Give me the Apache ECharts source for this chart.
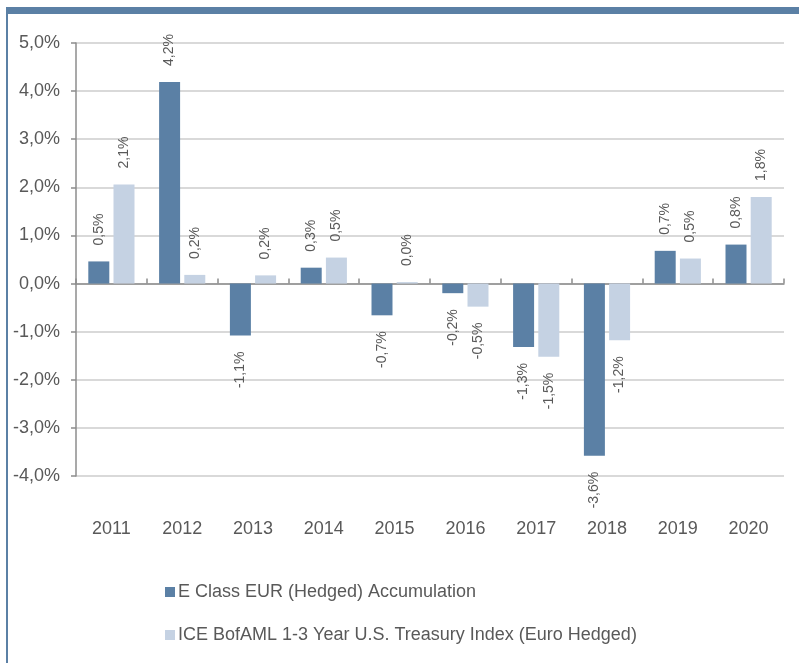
<!DOCTYPE html>
<html>
<head>
<meta charset="utf-8">
<script src="https://cdn.jsdelivr.net/npm/echarts@6/dist/echarts.min.js"></script>
<style>
    html, body { margin: 0; padding: 0; background: #fff; }
    #chart { width: 799px; height: 663px; }
</style>
</head>
<body>
<div id="chart"></div>
<script>
var years = ["2011", "2012", "2013", "2014", "2015", "2016", "2017", "2018", "2019", "2020"];
var fundValues = [0.46, 4.19, -1.08, 0.33, -0.66, -0.2, -1.32, -3.58, 0.68, 0.81];
var indexValues = [2.06, 0.18, 0.17, 0.54, 0.03, -0.48, -1.52, -1.18, 0.52, 1.8];
var seriesNames = ["E Class EUR (Hedged) Accumulation", "ICE BofAML 1-3 Year U.S. Treasury Index (Euro Hedged)"];

(function() {
    let myChart = echarts.init(document.getElementById("chart"));

    function fmt(v) {
        return v.toFixed(1).replace(".", ",") + "%";
    }

    // label above positive bars, below negative ones
    function withLabels(values) {
        return values.map(function(v) {
            return {
                value: v,
                label: v < 0 ? { position: "bottom", align: "right" } : { position: "top", align: "left" }
            };
        });
    }

    let barLabel = {
        show: true,
        rotate: 90,
        distance: 16,
        verticalAlign: "middle",
        color: "#595959",
        fontSize: 14,
        formatter: function(p) { return fmt(p.value); }
    };

    let option = {
        animation: false,
        textStyle: { fontFamily: "Liberation Sans, Arial, sans-serif" },
        grid: {
            left: 76,
            right: 15,
            top: 43,
            bottom: 187
        },
        legend: {
            orient: "vertical",
            left: 160,
            top: 578,
            itemWidth: 10,
            itemHeight: 10,
            itemGap: 25,
            icon: "rect",
            textStyle: {
                color: "#595959",
                fontSize: 18,
                padding: [0, 0, 0, -2]
            },
            data: seriesNames
        },
        graphic: [
            { type: "rect", shape: { x: 6, y: 7, width: 793, height: 7 }, style: { fill: "#5b80a5" } },
            { type: "rect", shape: { x: 6, y: 7, width: 2, height: 656 }, style: { fill: "#5b80a5" } }
        ],
        xAxis: [{
            type: "category",
            data: years,
            position: "bottom",
            axisLine: { show: false, onZero: false },
            axisTick: { show: false },
            axisLabel: {
                color: "#595959",
                fontSize: 18,
                margin: 44
            }
        }, {
            type: "category",
            data: years,
            axisLine: {
                onZero: true,
                lineStyle: { color: "#8c8c8c", width: 1.5 }
            },
            axisTick: {
                show: true,
                length: 5,
                lineStyle: { color: "#8c8c8c", width: 1.5 }
            },
            axisLabel: { show: false }
        }],
        yAxis: {
            type: "value",
            min: -4,
            max: 5,
            interval: 1,
            axisLine: {
                show: true,
                lineStyle: { color: "#8c8c8c", width: 1.5 }
            },
            axisTick: {
                show: true,
                length: 5,
                lineStyle: { color: "#8c8c8c", width: 1.5 }
            },
            axisLabel: {
                color: "#595959",
                fontSize: 18,
                margin: 16,
                formatter: function(v) { return fmt(v); }
            },
            splitLine: {
                lineStyle: { color: "#d9d9d9", width: 2 }
            }
        },
        series: [{
            name: seriesNames[0],
            type: "bar",
            barWidth: 21,
            barGap: "20%",
            data: withLabels(fundValues),
            itemStyle: { color: "#5b80a5" },
            label: barLabel
        }, {
            name: seriesNames[1],
            type: "bar",
            barWidth: 21,
            barGap: "20%",
            data: withLabels(indexValues),
            itemStyle: { color: "#c5d2e3" },
            label: barLabel
        }]
    };
    myChart.setOption(option);
    window.addEventListener("resize", function() {
        myChart.resize();
    });
})();
</script>
</body>
</html>
